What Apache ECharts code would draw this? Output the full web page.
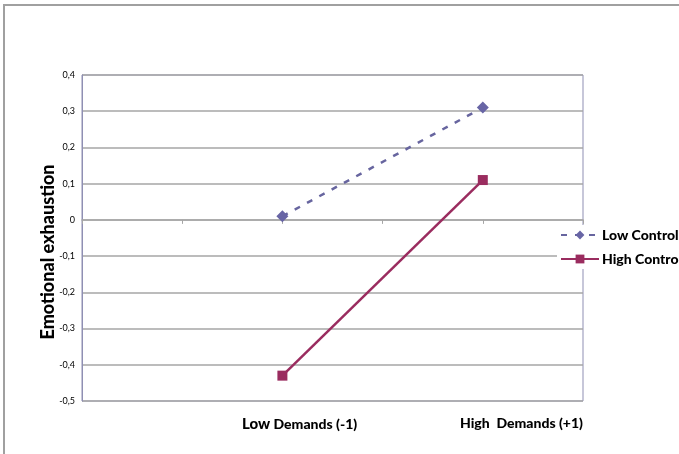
<!DOCTYPE html>
<html>
<head>
<meta charset="utf-8">
<script src="https://cdn.jsdelivr.net/npm/echarts@6/dist/echarts.min.js"></script>
<style>
  html, body { margin: 0; padding: 0; background: #fff; }
  #chart { width: 679px; height: 454px; }
</style>
</head>
<body>
<div id="chart"></div>
<script>
// Category slots along the demands axis; the two measured levels sit on slots 2 and 4.
const categories = ['', '', 'Low Demands (-1)', '', 'High Demands (+1)', ''];
const seriesNames = ['Low Control', 'High Control'];
const lowControl = [null, null, 0.01, null, 0.31, null];
const highControl = [null, null, -0.43, null, 0.11, null];
const yTicks = { min: -0.5, max: 0.4, step: 0.1 };
const axisTitle = 'Emotional exhaustion';

const chart = echarts.init(document.getElementById('chart'));
const font = 'Lato, "Open Sans", "Liberation Sans", sans-serif';

chart.setOption({
  animation: false,
  backgroundColor: '#ffffff',
  grid: {
    left: 82, right: 96, top: 75, bottom: 53,
    show: true, borderColor: '#8f8fb3', borderWidth: 1, backgroundColor: 'transparent'
  },
  xAxis: {
    type: 'category',
    data: categories,
    boundaryGap: false,
    axisLine: { onZero: true, lineStyle: { color: '#a6a6a6', width: 1.5 } },
    axisTick: { show: true, interval: 0, length: 4, lineStyle: { color: '#a6a6a6' } },
    axisLabel: { show: false },
    splitLine: { show: false }
  },
  yAxis: {
    type: 'value',
    min: yTicks.min, max: yTicks.max, interval: yTicks.step,
    axisLine: { show: true, lineStyle: { color: '#8f8fb3' } },
    axisTick: { show: false },
    axisLabel: {
      fontFamily: font, fontSize: 9, color: '#000', margin: 7,
      formatter: v => (Math.round(v * 10) / 10).toString().replace('.', ',')
    },
    splitLine: { lineStyle: { color: '#a6a6a6', width: 1.5 } }
  },
  legend: {
    orient: 'vertical',
    left: 557, top: 225,
    itemWidth: 38, itemHeight: 11, itemGap: 10,
    backgroundColor: '#ffffff',
    padding: [3, 0, 3, 3],
    textStyle: { fontFamily: font, fontWeight: 900, fontSize: 14, color: '#000', padding: [0, 0, 0, -2] },
    data: seriesNames
  },
  series: [
    {
      name: seriesNames[0],
      type: 'line',
      data: lowControl,
      connectNulls: true,
      symbol: 'diamond',
      symbolSize: 12,
      showSymbol: true,
      lineStyle: { color: '#67659f', width: 2.5, type: [6, 8] },
      itemStyle: { color: '#6865a5' }
    },
    {
      name: seriesNames[1],
      type: 'line',
      data: highControl,
      connectNulls: true,
      symbol: 'rect',
      symbolSize: 10,
      lineStyle: { color: '#9a2c5f', width: 2.5 },
      itemStyle: { color: '#9a2c5f' }
    }
  ],
  graphic: [
    {
      type: 'polyline',
      shape: { points: [[4, 454], [4, 5], [679, 5]] },
      style: { stroke: '#a0a0a0', lineWidth: 2, fill: null }
    },
    {
      // vertical value-axis title
      type: 'text', x: 48, y: 252, rotation: Math.PI / 2,
      style: {
        text: axisTitle, align: 'center', verticalAlign: 'middle',
        fontFamily: font, fontWeight: 900, fontSize: 18, fill: '#000'
      }
    },
    {
      type: 'text', left: 242, top: 417,
      style: {
        text: '{a|Low} {b|Demands (-1)}',
        rich: {
          a: { fontFamily: font, fontWeight: 900, fontSize: 15, fill: '#000' },
          b: { fontFamily: font, fontWeight: 900, fontSize: 14, fill: '#000' }
        }
      }
    },
    {
      type: 'text', left: 460, top: 416,
      style: {
        text: 'High  Demands (+1)',
        fontFamily: font, fontWeight: 900, fontSize: 14, fill: '#000'
      }
    }
  ]
});
</script>
</body>
</html>
